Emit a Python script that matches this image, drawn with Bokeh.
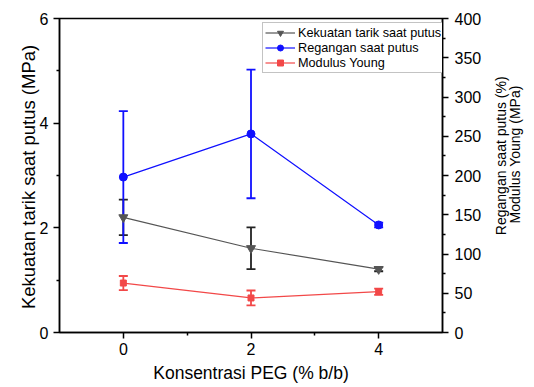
import math
from bokeh.plotting import figure
from bokeh.models import Range1d, LinearAxis, FixedTicker, Whisker, ColumnDataSource, TeeHead
from bokeh.embed import file_html
from bokeh.resources import INLINE

# Data
x_peg = [0, 2, 4]
kekuatan = [2.20, 1.61, 1.21]
kekuatan_err = [0.34, 0.40, 0.04]
regangan = [198, 253, 137]
regangan_err = [84, 82, 3]
modulus = [63, 44, 52]
modulus_err = [9, 9.5, 4]

x_ticks = [0, 2, 4]
x_minor = [1, 3]
left_ticks = [0, 2, 4, 6]
left_minor = [1, 3, 5]
right_ticks = [0, 50, 100, 150, 200, 250, 300, 350, 400]
right_minor = [25, 75, 125, 175, 225, 275, 325, 375]

x_title = "Konsentrasi PEG (% b/b)"
left_title = "Kekuatan tarik saat putus (MPa)"
right_label_lines = ["Regangan saat putus (%)", "Modulus Young (MPa)"]

FONT = "Liberation Sans"

p = figure(width=534, height=387, output_backend="svg", toolbar_location=None,
           x_range=Range1d(-1, 5), y_range=Range1d(0, 6),
           min_border_left=59, min_border_right=88, min_border_top=18, min_border_bottom=55)
p.extra_y_ranges = {"right": Range1d(0, 400)}
p.xgrid.visible = False
p.ygrid.visible = False
p.outline_line_color = "black"
p.outline_line_width = 1.5
p.background_fill_color = "white"
p.border_fill_color = "white"

def style_axis(ax, ticks, minor, label_size="16px"):
    ax.ticker = FixedTicker(ticks=ticks, minor_ticks=minor)
    ax.axis_line_color = "black"
    ax.axis_line_width = 1.5
    ax.major_tick_line_color = "black"
    ax.major_tick_line_width = 1.5
    ax.minor_tick_line_color = "black"
    ax.minor_tick_line_width = 1.5
    ax.major_tick_in = 0
    ax.major_tick_out = 6
    ax.minor_tick_in = 0
    ax.minor_tick_out = 3
    ax.major_label_text_font = FONT
    ax.major_label_text_font_size = label_size
    ax.major_label_text_color = "black"
    ax.axis_label_text_font = FONT
    ax.axis_label_text_font_style = "normal"
    ax.axis_label_text_color = "black"

def title_axis(text, pos, size, standoff, rng=None):
    # an axis that only carries one rotated label, used as a vertical title
    ax = LinearAxis(y_range_name=rng) if rng else LinearAxis()
    ax.ticker = FixedTicker(ticks=[pos], minor_ticks=[])
    ax.major_label_overrides = {pos: text}
    ax.major_label_orientation = math.pi / 2
    ax.axis_line_color = None
    ax.major_tick_line_color = None
    ax.minor_tick_line_color = None
    ax.major_tick_in = 0
    ax.major_tick_out = 0
    ax.minor_tick_in = 0
    ax.minor_tick_out = 0
    ax.major_label_standoff = standoff
    ax.major_label_text_font = FONT
    ax.major_label_text_font_size = size
    ax.major_label_text_color = "black"
    return ax

xa = p.xaxis[0]
style_axis(xa, x_ticks, x_minor)
xa.axis_label = x_title
xa.axis_label_text_font_size = "17.5px"
xa.major_label_standoff = 4
xa.axis_label_standoff = 5

ya = p.yaxis[0]
style_axis(ya, left_ticks, left_minor)
ya.major_label_standoff = 5
p.add_layout(title_axis(left_title, 2.5, "18.5px", 8), "left")

ra = LinearAxis(y_range_name="right")
style_axis(ra, right_ticks, right_minor)
ra.major_label_standoff = 6
p.add_layout(ra, "right")
# on the right side the rotated label starts at its tick
p.add_layout(title_axis(right_label_lines[0], 124, "14px", 17, "right"), "right")
p.add_layout(title_axis(right_label_lines[1], 139, "14px", -5, "right"), "right")

# Series
c_gray = "#555555"
c_blue = "#1010ff"
c_red = "#f24848"

def errs(vals, err):
    return ColumnDataSource(dict(x=x_peg,
                                 lower=[v - e for v, e in zip(vals, err)],
                                 upper=[v + e for v, e in zip(vals, err)]))

def add_whisker(src, color, rng=None):
    w = Whisker(base="x", lower="lower", upper="upper", source=src,
                line_color=color, line_width=1.8,
                upper_head=TeeHead(size=9, line_color=color, line_width=1.8),
                lower_head=TeeHead(size=9, line_color=color, line_width=1.8))
    if rng:
        w.y_range_name = rng
    p.add_layout(w)

# Kekuatan (left axis)
p.line(x_peg, kekuatan, line_color=c_gray, line_width=1.2, legend_label="Kekuatan tarik saat putus")
p.scatter(x_peg, kekuatan, marker="inverted_triangle", size=9, color=c_gray,
          legend_label="Kekuatan tarik saat putus")
add_whisker(errs(kekuatan, kekuatan_err), "#222222")

# Regangan (right axis)
p.line(x_peg, regangan, line_color=c_blue, line_width=1.2, y_range_name="right",
       legend_label="Regangan saat putus")
p.scatter(x_peg, regangan, marker="circle", size=8, color=c_blue, y_range_name="right",
          legend_label="Regangan saat putus")
add_whisker(errs(regangan, regangan_err), c_blue, "right")

# Modulus (right axis)
p.line(x_peg, modulus, line_color=c_red, line_width=1.2, y_range_name="right",
       legend_label="Modulus Young")
p.scatter(x_peg, modulus, marker="square", size=6, color=c_red, y_range_name="right",
          legend_label="Modulus Young")
add_whisker(errs(modulus, modulus_err), c_red, "right")

lg = p.legend[0]
lg.location = (203, 259)
lg.label_text_font = FONT
lg.label_text_font_size = "12.7px"
lg.label_text_color = "black"
lg.glyph_width = 30
lg.glyph_height = 15
lg.label_height = 15
lg.label_standoff = 3
lg.spacing = 0
lg.padding = 2
lg.margin = 0
lg.border_line_color = "#888888"
lg.border_line_width = 1
lg.background_fill_alpha = 1

open("out.html", "w").write(file_html(p, INLINE))
